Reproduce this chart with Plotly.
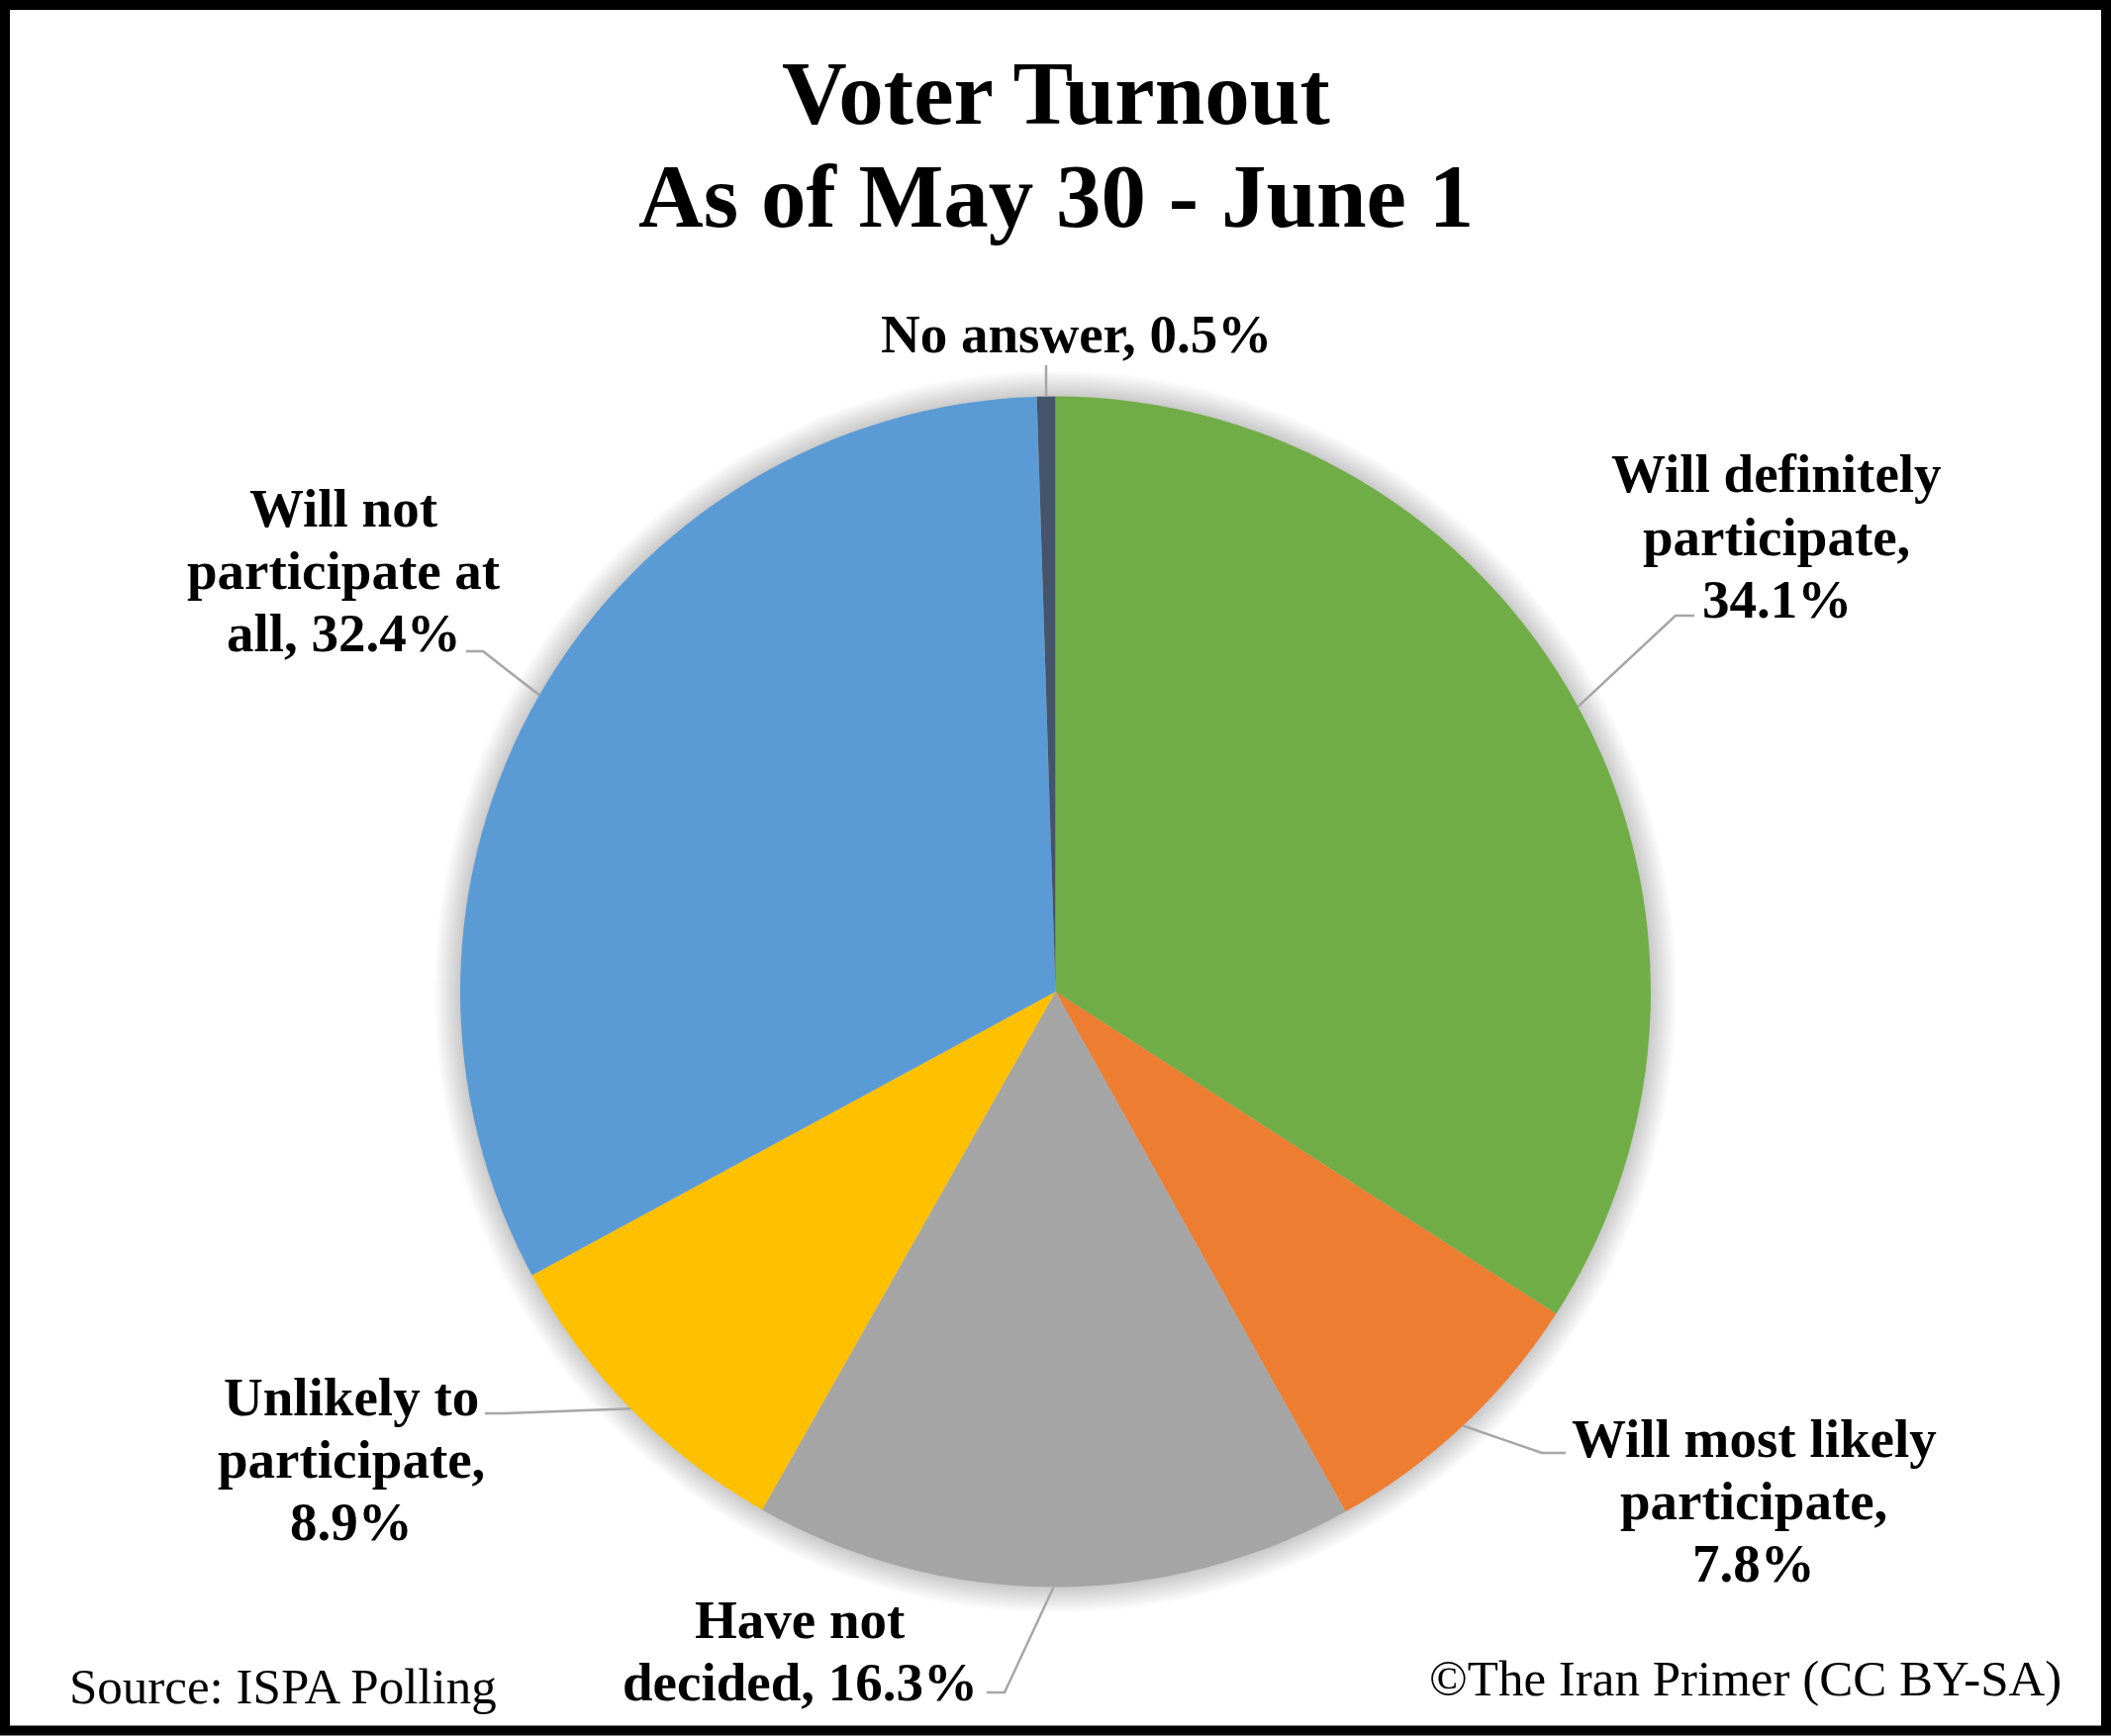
import math
import plotly.graph_objects as go

W, H = 2133, 1754

# --- data -------------------------------------------------------------
categories = [
    "Will definitely participate",
    "Will most likely participate",
    "Have not decided",
    "Unlikely to participate",
    "Will not participate at all",
    "No answer",
]
shares = [34.1, 7.8, 16.3, 8.9, 32.4, 0.5]
slice_colors = ["#70AD47", "#ED7D31", "#A5A5A5", "#FFC000", "#5B9BD5", "#44546A"]

title_lines = ["Voter Turnout", "As of May 30 - June 1"]
source_text = "Source: ISPA Polling"
credit_text = "\u00a9The Iran Primer (CC BY-SA)"

# --- layout helpers (pixel space, origin top-left) ---------------------
CX, CY, R = 1066.5, 1002.0, 601.5
SERIF = "Liberation Serif, Times New Roman, serif"


def px(x):
    return x / W


def py(y):
    return 1 - y / H


def pie_domain(radius):
    return dict(x=[px(CX - radius), px(CX + radius)],
                y=[py(CY + radius), py(CY - radius)])


# words per line for each data label, label position (centre of first line)
words_per_line = [[2, 1, 1], [3, 1, 1], [2, 2], [2, 1, 1], [2, 2, 2], [3]]
label_pos = [(1795, 479), (1772, 1453), (808, 1636), (355, 1411), (347, 513), (1087, 338)]
# leader line bend and end points
leader_pts = [
    [(1693, 622), (1712, 622)],
    [(1558, 1468), (1582, 1468)],
    [(1015, 1710), (997, 1710)],
    [(510, 1428), (490, 1428)],
    [(488, 658), (471, 658)],
    [(1057, 369)],
]
LINE_GAP = 63
LABEL_SIZE = 55

fig = go.Figure()

# soft shadow around the pie, built from faint stacked discs
for d in range(26, 0, -2):
    fig.add_trace(go.Pie(
        values=[1], domain=pie_domain(R + d), sort=False,
        marker=dict(colors=["rgba(0,0,0,0.015)"], line=dict(width=0)),
        textinfo="none", hoverinfo="skip", showlegend=False,
    ))

fig.add_trace(go.Pie(
    labels=categories, values=shares, domain=pie_domain(R),
    sort=False, direction="clockwise", rotation=0,
    marker=dict(colors=slice_colors, line=dict(width=0)),
    textinfo="none", showlegend=False,
))

annotations = []
shapes = []

total = sum(shares)
cum = 0.0
for cat, val, wpl, (lx, ly), pts in zip(categories, shares, words_per_line, label_pos, leader_pts):
    # label text split into lines
    words = f"{cat}, {val:.1f}%".split(" ")
    lines, i = [], 0
    for n in wpl:
        lines.append(" ".join(words[i:i + n]))
        i += n
    for k, line in enumerate(lines):
        annotations.append(dict(
            x=px(lx), y=py(ly + k * LINE_GAP), xref="paper", yref="paper",
            text=line, showarrow=False, xanchor="center", yanchor="middle",
            font=dict(family=SERIF, size=LABEL_SIZE, color="black", weight="bold"),
        ))
    # leader line from the slice's mid-point on the rim
    theta = 2 * math.pi * (cum + val / 2) / total
    cum += val
    ex, ey = CX + R * math.sin(theta), CY - R * math.cos(theta)
    path = f"M {px(ex)},{py(ey)}" + "".join(f" L {px(x)},{py(y)}" for x, y in pts)
    shapes.append(dict(type="path", xref="paper", yref="paper", path=path,
                       line=dict(color="#A6A6A6", width=2.5)))

# title
for line, yc in zip(title_lines, [95, 199]):
    annotations.append(dict(
        x=0.5, y=py(yc), xref="paper", yref="paper", text=line, showarrow=False,
        xanchor="center", yanchor="middle",
        font=dict(family=SERIF, size=91, color="black", weight="bold"),
    ))

# footer notes
annotations.append(dict(
    x=px(68), y=py(1704), xref="paper", yref="paper", text=source_text,
    showarrow=False, xanchor="left", yanchor="middle",
    font=dict(family=SERIF, size=51, color="black"),
))
annotations.append(dict(
    x=px(2085), y=py(1696), xref="paper", yref="paper", text=credit_text,
    showarrow=False, xanchor="right", yanchor="middle",
    font=dict(family=SERIF, size=51, color="black"),
))

# black frame
shapes.append(dict(type="rect", xref="paper", yref="paper",
                   x0=px(5), x1=px(W - 5), y0=py(H - 5.5), y1=py(5),
                   line=dict(color="black", width=10)))

fig.update_layout(
    width=W, height=H, autosize=False,
    margin=dict(l=0, r=0, t=0, b=0),
    paper_bgcolor="white", plot_bgcolor="white",
    annotations=annotations, shapes=shapes,
)

fig.write_html("out.html")
